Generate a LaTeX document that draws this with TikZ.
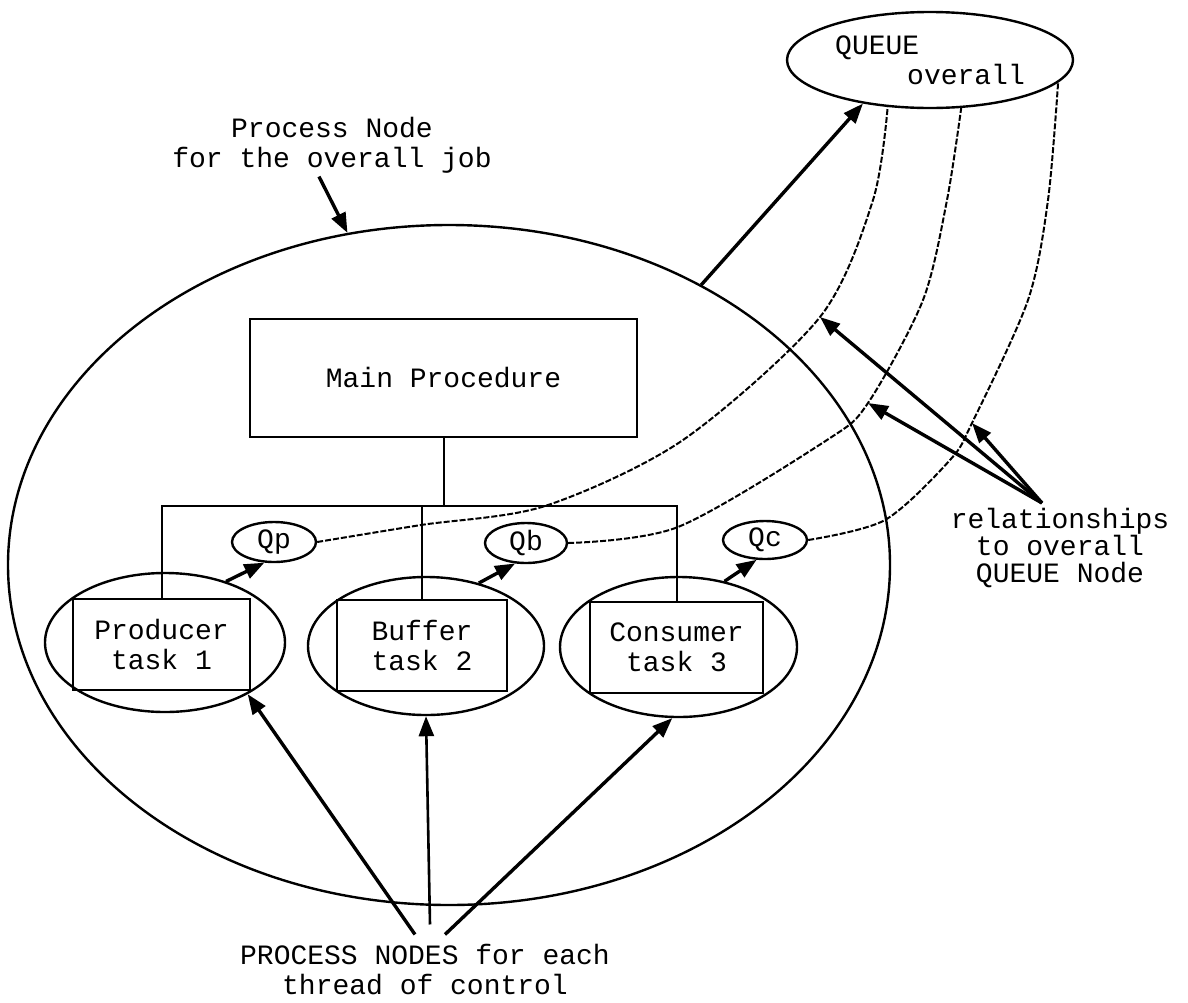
\documentclass[tikz,border=0pt]{standalone}
\usepackage{fontspec}
\setmainfont{Liberation Mono}
\usepackage{tikz}
\usetikzlibrary{arrows.meta, shapes.geometric, positioning, calc}

\begin{document}
\begin{tikzpicture}[x=1pt,y=-1pt, font=\fontsize{28}{30}\selectfont,
  box/.style={draw, line width=2pt, minimum height=91pt, inner sep=0pt, align=center},
  oval/.style={draw, ellipse, line width=2.4pt, inner sep=0pt},
  arr/.style={-{Triangle[length=20pt,width=15pt]}, line width=3.4pt},
  rel/.style={dash pattern=on 6pt off 2pt, line width=2pt},
  wire/.style={line width=2pt}]
  \useasboundingbox (0,0) rectangle (1188,1002);

  % process node for the whole job, and the queue node
  \node[oval, minimum width=882pt, minimum height=680pt] (job) at (449,565) {};
  \node[oval, minimum width=286pt, minimum height=96pt, align=left] (queue) at (930,60) {QUEUE\\\hspace*{72pt}overall};

  \node[box, minimum width=387pt, minimum height=118pt] (main) at (443.5,378) {Main Procedure};

  % one process node per thread of control
  \node[oval, minimum width=240pt, minimum height=139pt] (prod) at (165,642.5) {};
  \node[box, minimum width=177pt] (prodbox) at (161.5,644) {Producer\\task 1};
  \node[oval, minimum width=236pt, minimum height=138pt] (buf) at (426,646) {};
  \node[box, minimum width=170pt] (bufbox) at (422,645.5) {Buffer\\task 2};
  \node[oval, minimum width=237pt, minimum height=140pt] (cons) at (678.5,647) {};
  \node[box, minimum width=173pt] (consbox) at (676.5,647) {Consumer\\task 3};

  \node[oval, minimum width=84pt, minimum height=40pt] (qp) at (274,542) {Qp};
  \node[oval, minimum width=82pt, minimum height=40pt] (qb) at (526,543) {Qb};
  \node[oval, minimum width=84pt, minimum height=38pt] (qc) at (765,540) {Qc};

  % labels
  \node[align=center] (pnlabel) at (332,145) {Process Node\\for the overall job};
  \node[align=center, inner sep=2pt] (pnodes) at (425,970) {PROCESS NODES for each\\thread of control};
  \node[align=center, font=\fontsize{28}{27}\selectfont] (rellabel) at (1060,548) {relationships\\to overall\\QUEUE Node};

  % call tree
  \coordinate (bus) at (443.5,506);
  \draw[wire] (main.south) -- (bus);
  \draw[wire] (prodbox.north) |- (bus) -| (consbox.north);
  \draw[wire] (bufbox.north) -- (bufbox.north |- bus);

  \draw[arr] (prod.45) -- (qp.245);
  \draw[arr] (buf.50) -- (qb.242);
  \draw[arr] (cons.55) -- (qc.247);
  \draw[arr] (job.48) -- (queue.213);
  \draw[arr] ([xshift=-13pt]pnlabel.south) -- (job.107);

  \draw[arr] ([xshift=-10pt,yshift=8pt]pnodes.north) -- (prod.328);
  \draw[arr, line width=2.6pt] ([xshift=5pt,yshift=18pt]pnodes.north) -- (buf.south);
  \draw[arr] ([xshift=20pt,yshift=8pt]pnodes.north) -- (cons.265);

  % dashed links to the queue node
  \coordinate (r1) at (820,317);
  \coordinate (r2) at (868,403);
  \coordinate (r3) at (972,423);
  \draw[rel] plot[smooth] coordinates {(qp.east) (421,525) (545,506) (683,440) (r1) (873,200) (queue.228)};
  \draw[rel] plot[smooth] coordinates {(qb.east) (678,527) (827,440) (r2) (923,300) (947,200) (queue.303)};
  \draw[rel] plot[smooth] coordinates {(qc.east) (885,520) (950,460) (r3) (1028,300) (1048,200) (queue.350)};

  \coordinate (relfan) at (1042,503);
  \draw[arr] (relfan) -- (r1);
  \draw[arr] (relfan) -- (r2);
  \draw[arr] (relfan) -- (r3);
\end{tikzpicture}
\end{document}
